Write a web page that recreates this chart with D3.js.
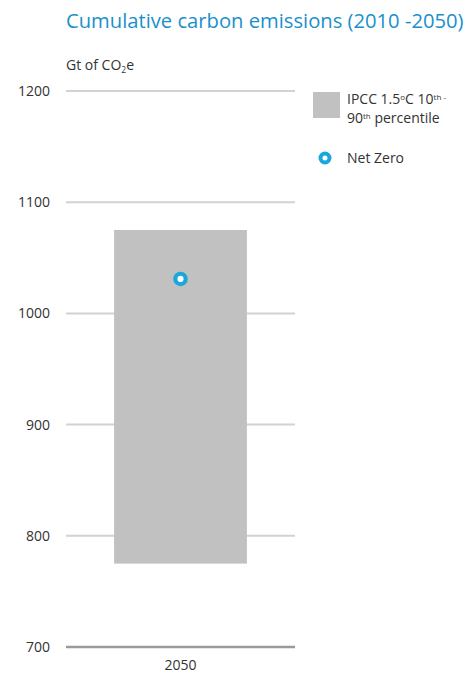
<!DOCTYPE html>
<html><head><meta charset="utf-8">
<script src="https://cdn.jsdelivr.net/npm/d3@7"></script>
<style>body{margin:0;background:#fff}svg{display:block}text{font-family:"Open Sans",sans-serif}</style>
</head><body>
<svg id="c" width="466" height="675"></svg>
<script>
const categories = ["2050"];
const rangeLow = [775];
const rangeHigh = [1075];
const netZero = [1031];
const yTicks = [700, 800, 900, 1000, 1100, 1200];

const svg = d3.select("#c");
const x0 = 66, x1 = 295, yTop = 91, yBot = 647;
const y = d3.scaleLinear().domain([700, 1200]).range([yBot, yTop]);
const x = d3.scaleBand().domain(categories).range([x0, x1]).paddingInner(0.42).paddingOuter(0.21);
const fs = 14;

svg.append("text").attr("x", 66).attr("y", 28).attr("fill", "#1b8fcb")
  .attr("font-size", 20.2).text("Cumulative carbon emissions (2010 -2050)");
const ut = svg.append("text").attr("x", 66).attr("y", 70).attr("fill", "#333").attr("font-size", fs);
ut.append("tspan").text("Gt of CO");
ut.append("tspan").attr("font-size", 8.5).attr("dy", 3).text("2");
ut.append("tspan").attr("dy", -3).text("e");

// gridlines
svg.append("g").selectAll("line").data(yTicks.filter(d => d > 700)).join("line")
  .attr("x1", x0).attr("x2", x1).attr("y1", d => y(d)).attr("y2", d => y(d))
  .attr("stroke", "#d2d2d2").attr("stroke-width", 2);
svg.append("line").attr("x1", x0).attr("x2", x1).attr("y1", y(700)).attr("y2", y(700))
  .attr("stroke", "#9a9a9a").attr("stroke-width", 2.5);

// y labels
svg.append("g").selectAll("text").data(yTicks).join("text")
  .attr("x", 50).attr("y", d => y(d)).attr("dy", "0.35em").attr("text-anchor", "end")
  .attr("fill", "#333").attr("font-size", fs).text(d => d);

// bars
svg.append("g").selectAll("rect").data(categories).join("rect")
  .attr("x", d => x(d)).attr("width", x.bandwidth())
  .attr("y", (d, i) => y(rangeHigh[i])).attr("height", (d, i) => y(rangeLow[i]) - y(rangeHigh[i]))
  .attr("fill", "#c1c1c1");

// net zero dots
svg.append("g").selectAll("circle").data(categories).join("circle")
  .attr("cx", d => x(d) + x.bandwidth() / 2).attr("cy", (d, i) => y(netZero[i]))
  .attr("r", 5.2).attr("fill", "#fff").attr("stroke", "#1aa7dc").attr("stroke-width", 4.2);

// x labels
svg.append("g").selectAll("text").data(categories).join("text")
  .attr("x", d => x(d) + x.bandwidth() / 2).attr("y", 670).attr("text-anchor", "middle")
  .attr("fill", "#333").attr("font-size", fs).text(d => d);

// legend
svg.append("rect").attr("x", 313).attr("y", 92).attr("width", 27).attr("height", 26).attr("fill", "#c1c1c1");
const l1 = svg.append("text").attr("x", 347).attr("y", 104).attr("fill", "#333").attr("font-size", fs);
l1.append("tspan").text("IPCC 1.5");
l1.append("tspan").attr("font-size", 8).attr("dy", -4).text("o");
l1.append("tspan").attr("dy", 4).text("C 10");
l1.append("tspan").attr("font-size", 8).attr("dy", -4).text("th -");
const l2 = svg.append("text").attr("x", 347).attr("y", 123).attr("fill", "#333").attr("font-size", fs);
l2.append("tspan").text("90");
l2.append("tspan").attr("font-size", 8).attr("dy", -4).text("th");
l2.append("tspan").attr("dy", 4).text(" percentile");
svg.append("circle").attr("cx", 325).attr("cy", 158).attr("r", 4.5)
  .attr("fill", "#fff").attr("stroke", "#1aa7dc").attr("stroke-width", 4);
svg.append("text").attr("x", 347).attr("y", 158).attr("dy", "0.35em").attr("fill", "#333")
  .attr("font-size", fs).text("Net Zero");
</script>
</body></html>
